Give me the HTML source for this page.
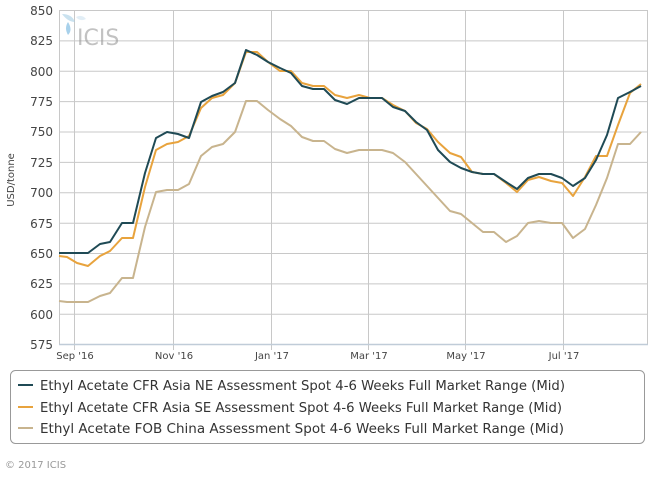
<!DOCTYPE html>
<html><head><meta charset="utf-8"><style>
body{margin:0;background:#fff;width:668px;height:478px;overflow:hidden;font-family:"DejaVu Sans",sans-serif;}
</style></head><body>
<svg width="668" height="478" viewBox="0 0 668 478" xmlns="http://www.w3.org/2000/svg" font-family="DejaVu Sans, sans-serif">
<rect width="668" height="478" fill="#fff"/>
<g stroke="#c8c8c8" stroke-width="1">
<line x1="59" y1="10.5" x2="648" y2="10.5"/>
<line x1="59" y1="40.9" x2="648" y2="40.9"/>
<line x1="59" y1="71.3" x2="648" y2="71.3"/>
<line x1="59" y1="101.6" x2="648" y2="101.6"/>
<line x1="59" y1="132" x2="648" y2="132"/>
<line x1="59" y1="162.4" x2="648" y2="162.4"/>
<line x1="59" y1="192.8" x2="648" y2="192.8"/>
<line x1="59" y1="223.2" x2="648" y2="223.2"/>
<line x1="59" y1="253.5" x2="648" y2="253.5"/>
<line x1="59" y1="283.9" x2="648" y2="283.9"/>
<line x1="59" y1="314.3" x2="648" y2="314.3"/>
<line x1="74.5" y1="10" x2="74.5" y2="350"/>
<line x1="173.5" y1="10" x2="173.5" y2="350"/>
<line x1="271.5" y1="10" x2="271.5" y2="350"/>
<line x1="368.5" y1="10" x2="368.5" y2="350"/>
<line x1="465.5" y1="10" x2="465.5" y2="350"/>
<line x1="563.5" y1="10" x2="563.5" y2="350"/>
<line x1="647.5" y1="10" x2="647.5" y2="345"/>
<line x1="59.5" y1="10" x2="59.5" y2="345"/>
</g>
<line x1="59" y1="344.5" x2="648" y2="344.5" stroke="#c0ccd8" stroke-width="1.5"/>
<g font-size="12" fill="#444" text-anchor="end">
<text x="53" y="15">850</text><text x="53" y="45">825</text><text x="53" y="76">800</text><text x="53" y="106">775</text><text x="53" y="136">750</text><text x="53" y="167">725</text><text x="53" y="197">700</text><text x="53" y="228">675</text><text x="53" y="258">650</text><text x="53" y="288">625</text><text x="53" y="319">600</text><text x="53" y="349">575</text>
</g>
<g font-size="10" fill="#444" text-anchor="middle">
<text x="75" y="359">Sep '16</text><text x="174" y="359">Nov '16</text><text x="272" y="359">Jan '17</text><text x="369" y="359">Mar '17</text><text x="466" y="359">May '17</text><text x="564" y="359">Jul '17</text>
</g>
<text x="14" y="180" font-size="10" fill="#444" text-anchor="middle" transform="rotate(-90 14 180)">USD/tonne</text>
<g opacity="0.6">
<path d="M62 14 Q72 14 75 22 Q68 22 62 14Z" fill="#a8cfe6"/>
<path d="M68 22 Q73 30 68 35 Q64 28 68 22Z" fill="#6fb3de"/>
<path d="M76 17 Q82 14 86 19 Q80 22 76 17Z" fill="#cfe4f1"/>
<text x="77" y="45" font-size="22" fill="#9a9a9a">ICIS</text>
</g>
<g fill="none" stroke-width="2" stroke-linejoin="round">
<polyline stroke="#c8b48e" points="59,301 67,302 88,302 100,296 110,293 122,278 133,278 145,227 156,192 167,190 178,190 189,184 201,156 212,147 223,144 235,132 246,101 257,101 268,110 280,119 291,126 302,137 313,141 324,141 335,149 347,153 359,150 382,150 393,153 405,162 450,211 461,214 483,232 494,232 506,242 517,236 528,223 539,221 551,223 562,223 573,238 585,229 596,205 607,178 618,144 630,144 641,132"/>
<polyline stroke="#e8a33d" points="59,256 67,257 77,263 88,266 100,256 110,251 122,238 133,238 145,187 156,150 167,144 178,142 189,136 201,108 212,98 223,95 235,83 246,52 257,52 268,62 280,71 291,71 302,83 313,86 324,86 335,95 347,98 359,95 370,98 382,98 393,105 405,111 416,123 427,129 438,142 450,153 461,157 472,172 483,174 494,174 506,183 517,192 528,180 539,177 551,181 562,183 573,196 585,177 596,156 607,156 618,125 630,93 641,84"/>
<polyline stroke="#1f4a55" points="59,253 88,253 100,244 110,242 122,223 133,223 145,173 156,138 167,132 178,134 189,138 201,102 212,96 223,92 235,83 246,50 257,55 268,62 280,68 291,73 302,86 313,89 324,89 335,100 347,104 359,98 370,98 382,98 393,107 405,111 416,122 427,130 438,150 450,162 461,168 472,172 483,174 494,174 506,182 517,189 528,178 539,174 551,174 562,178 573,186 585,178 596,160 607,135 618,98 630,92 641,86"/>
</g>
<rect x="10.5" y="370.5" width="634" height="73" rx="5" fill="#fff" stroke="#999"/>
<g stroke-width="2"><line x1="18" y1="385" x2="33" y2="385" stroke="#1f4a55"/><line x1="18" y1="407" x2="33" y2="407" stroke="#e8a33d"/><line x1="18" y1="428" x2="33" y2="428" stroke="#c8b48e"/></g>
<g font-size="13" fill="#333">
<text x="40" y="390" textLength="525" lengthAdjust="spacingAndGlyphs">Ethyl Acetate CFR Asia NE Assessment Spot 4-6 Weeks Full Market Range (Mid)</text>
<text x="40" y="412" textLength="522" lengthAdjust="spacingAndGlyphs">Ethyl Acetate CFR Asia SE Assessment Spot 4-6 Weeks Full Market Range (Mid)</text>
<text x="40" y="433" textLength="524" lengthAdjust="spacingAndGlyphs">Ethyl Acetate FOB China Assessment Spot 4-6 Weeks Full Market Range (Mid)</text>
</g>
<text x="5" y="468" font-size="10" fill="#999">© 2017 ICIS</text>
</svg>
</body></html>
